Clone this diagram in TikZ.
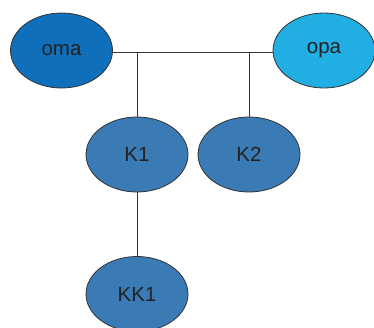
\documentclass[tikz,border=0pt]{standalone}
\usepackage{fontspec}
\setmainfont{Liberation Sans}
\usetikzlibrary{shapes.geometric}
\definecolor{omac}{HTML}{0F6FBA}
\definecolor{opac}{HTML}{21AEE3}
\definecolor{kidc}{HTML}{3A7BB6}
\definecolor{linec}{HTML}{333333}
\definecolor{textc}{HTML}{222222}
\begin{document}
\begin{tikzpicture}[x=1pt,y=-1pt,
  person/.style={ellipse,draw=linec,line width=0.8pt,minimum width=102pt,minimum height=75pt,inner sep=0pt,text=textc,font=\fontsize{20.5}{24}\selectfont},
  link/.style={draw=linec,line width=0.9pt}]
\useasboundingbox (0,0) rectangle (374,327);
\node[person,fill=omac] (oma) at (61.5,50.5) {oma};
\node[person,fill=opac] (opa) at (324,50.5) {opa};
\node[person,fill=kidc] (k1) at (137,154.5) {K1};
\node[person,fill=kidc] (k2) at (249,154.5) {K2};
\node[person,fill=kidc] (kk1) at (137,294) {KK1};
\coordinate (j1) at (137,52);
\coordinate (j2) at (249,52);
\draw[link] (oma.east |- j1) -- (opa.west |- j1);
\draw[link] (j1) -- (k1.north);
\draw[link] (j2) -- (k2.north);
\draw[link] (k1.south) -- (kk1.north);
\end{tikzpicture}
\end{document}
